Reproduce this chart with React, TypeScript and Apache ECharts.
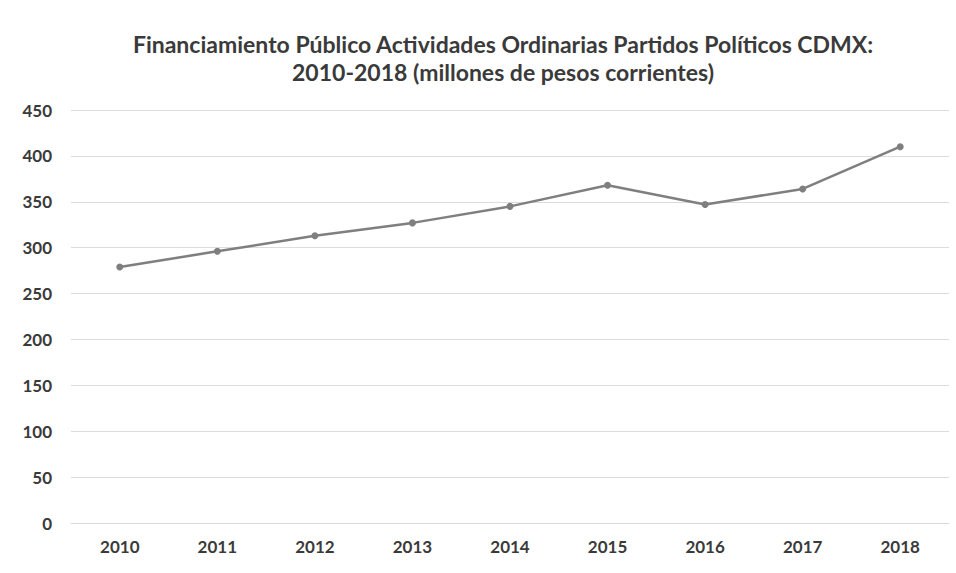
import React, { useEffect, useRef } from "react";
import * as echarts from "echarts";

const categories = ["2010", "2011", "2012", "2013", "2014", "2015", "2016", "2017", "2018"];
const values = [279, 296, 313, 327, 345, 368, 347, 364, 410];
const titleLines = [
  "Financiamiento Público Actividades Ordinarias Partidos Políticos CDMX:",
  "2010-2018 (millones de pesos corrientes)",
];

export default function App() {
  const ref = useRef<HTMLDivElement>(null);
  useEffect(() => {
    if (!ref.current) return;
    const chart = echarts.init(ref.current, null, { renderer: "svg" });
    chart.setOption({
      animation: false,
      backgroundColor: "#ffffff",
      title: {
        text: titleLines.join("\n"),
        left: 498,
        textAlign: "center",
        top: 25,
        textStyle: {
          fontFamily: "Lato",
          fontWeight: "bold",
          fontSize: 23,
          color: "#3a3a3a",
          lineHeight: 28,
        },
      },
      grid: { left: 71, right: 7, top: 110, bottom: 50 },
      xAxis: {
        type: "category",
        data: categories,
        boundaryGap: true,
        axisLine: { show: true, lineStyle: { color: "#d9d9d9", width: 1 } },
        axisTick: { show: false },
        axisLabel: {
          fontFamily: "Lato",
          fontWeight: "bold",
          fontSize: 17,
          color: "#3a3a3a",
          margin: 15,
        },
      },
      yAxis: {
        type: "value",
        min: 0,
        max: 450,
        interval: 50,
        axisLine: { show: false },
        axisTick: { show: false },
        splitLine: { lineStyle: { color: "#dcdcdc", width: 1 } },
        axisLabel: {
          fontFamily: "Lato",
          fontWeight: "bold",
          fontSize: 17,
          color: "#3a3a3a",
          margin: 19,
        },
      },
      series: [
        {
          type: "line",
          data: values,
          symbol: "circle",
          symbolSize: 7,
          lineStyle: { color: "#7f7f7f", width: 2.5 },
          itemStyle: { color: "#7f7f7f" },
        },
      ],
    });
    return () => chart.dispose();
  }, []);
  return (
    <div
      ref={ref}
      style={{ position: "fixed", left: 0, top: 0, width: 956, height: 573 }}
    />
  );
}
